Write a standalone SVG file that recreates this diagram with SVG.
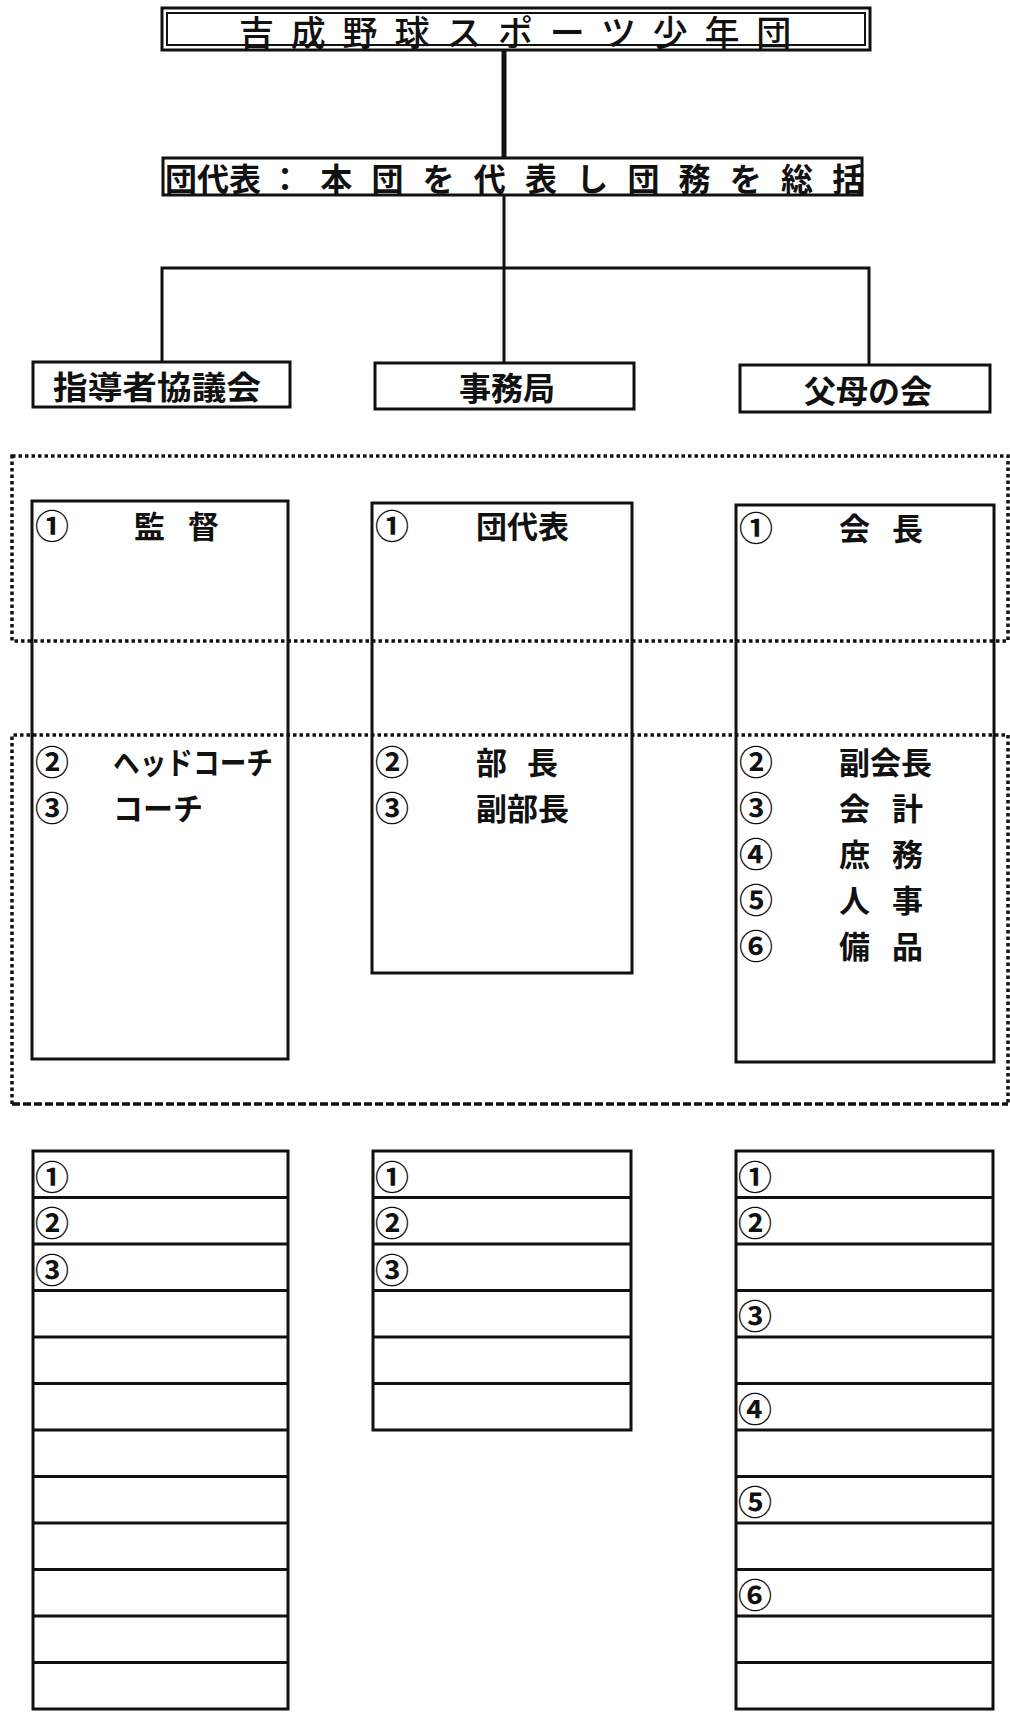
<svg xmlns="http://www.w3.org/2000/svg" width="1010" height="1722" viewBox="0 0 1010 1722">
<style>
.bx{fill:none;stroke:#111;stroke-width:3}
.ln{stroke:#111;stroke-width:3;fill:none}
.dot{fill:none;stroke:#111;stroke-width:3.5;stroke-dasharray:3.5 3}
.dash{fill:none;stroke:#111;stroke-width:3.5;stroke-dasharray:8 3}
.t{font-family:"Noto Sans CJK JP","Noto Sans CJK SC",sans-serif;fill:#111;dominant-baseline:central}
.b{font-weight:bold}
.m{font-size:31px}
.c{font-family:"Noto Sans CJK JP","Noto Sans CJK SC",sans-serif;font-size:34px;font-weight:bold;fill:#111;dominant-baseline:central}
</style>
<rect width="1010" height="1722" fill="#fff"/>
<g id="connectors">
<line class="ln" x1="504" y1="50" x2="504" y2="158" style="stroke-width:5"/>
<line class="ln" x1="504" y1="195" x2="504" y2="363"/>
<polyline class="ln" points="162,362 162,268 869,268 869,365"/>
</g>
<g id="title">
<rect class="bx" x="162" y="8" width="708" height="42"/>
<rect class="bx" x="167" y="13" width="698" height="32" style="stroke-width:2"/>
<text class="t" x="239" y="30" font-size="35" font-weight="500" letter-spacing="16.8">吉成野球スポーツ少年団</text>
</g>
<g id="representative">
<rect class="bx" x="163" y="158" width="699" height="37"/>
<text class="t b" x="165" y="177" font-size="32">団代表</text>
<text class="t b" x="269" y="177" font-size="32" letter-spacing="19.2">：本団を代表し団務を総括</text>
</g>
<g id="node-shidousha">
<rect class="bx" x="33" y="362" width="257" height="45"/>
<text class="t b" x="53" y="385" font-size="32" textLength="208" lengthAdjust="spacingAndGlyphs">指導者協議会</text>
</g>
<g id="node-jimukyoku">
<rect class="bx" x="375" y="363" width="259" height="46"/>
<text class="t b" x="507" y="386" font-size="32" text-anchor="middle">事務局</text>
</g>
<g id="node-fubo">
<rect class="bx" x="740" y="365" width="250" height="47"/>
<text class="t b" x="868" y="389" font-size="32" text-anchor="middle">父母の会</text>
</g>
<g id="dotted-frames">
<rect class="dot" x="12" y="456" width="996" height="185"/>
<polyline class="dot" points="12,1104 12,735 1008,735 1008,1104"/>
<line class="dash" x1="12" y1="1104" x2="1008" y2="1104"/>
</g>
<g id="roles-shidousha">
<rect class="bx" x="32" y="501" width="256" height="558"/>
<text class="c" x="35" y="524">①</text>
<text class="t m b" x="134 188" y="524">監督</text>
<text class="c" x="35" y="760">②</text>
<text class="t m b" x="113" y="760" textLength="160" lengthAdjust="spacingAndGlyphs">ヘッドコーチ</text>
<text class="c" x="35" y="806">③</text>
<text class="t m b" x="113" y="806" textLength="90" lengthAdjust="spacingAndGlyphs">コーチ</text>
</g>
<g id="roles-jimukyoku">
<rect class="bx" x="372" y="503" width="260" height="470"/>
<text class="c" x="375" y="524">①</text>
<text class="t m b" x="476" y="524">団代表</text>
<text class="c" x="375" y="760">②</text>
<text class="t m b" x="476 527" y="760">部長</text>
<text class="c" x="375" y="806">③</text>
<text class="t m b" x="476" y="806">副部長</text>
</g>
<g id="roles-fubo">
<rect class="bx" x="736" y="505" width="258" height="557"/>
<text class="c" x="739" y="526">①</text>
<text class="t m b" x="839 892" y="526">会長</text>
<text class="c" x="739" y="760">②</text>
<text class="t m b" x="839" y="760">副会長</text>
<text class="c" x="739" y="806">③</text>
<text class="t m b" x="839 892" y="806">会計</text>
<text class="c" x="739" y="852">④</text>
<text class="t m b" x="839 892" y="852">庶務</text>
<text class="c" x="739" y="898">⑤</text>
<text class="t m b" x="839 892" y="898">人事</text>
<text class="c" x="739" y="944">⑥</text>
<text class="t m b" x="839 892" y="944">備品</text>
</g>
<g id="list-shidousha">
<rect class="bx" x="33" y="1151" width="255" height="558"/>
<path class="ln" d="M33 1197.5H288M33 1244H288M33 1290.5H288M33 1337H288M33 1383.5H288M33 1430H288M33 1476.5H288M33 1523H288M33 1569.5H288M33 1616H288M33 1662.5H288"/>
<text class="c" x="35" y="1175">①</text>
<text class="c" x="35" y="1221">②</text>
<text class="c" x="35" y="1268">③</text>
</g>
<g id="list-jimukyoku">
<rect class="bx" x="373" y="1151" width="258" height="279"/>
<path class="ln" d="M373 1197.5H631M373 1244H631M373 1290.5H631M373 1337H631M373 1383.5H631"/>
<text class="c" x="375" y="1175">①</text>
<text class="c" x="375" y="1221">②</text>
<text class="c" x="375" y="1268">③</text>
</g>
<g id="list-fubo">
<rect class="bx" x="736" y="1151" width="257" height="558"/>
<path class="ln" d="M736 1197.5H993M736 1244H993M736 1290.5H993M736 1337H993M736 1383.5H993M736 1430H993M736 1476.5H993M736 1523H993M736 1569.5H993M736 1616H993M736 1662.5H993"/>
<text class="c" x="738" y="1175">①</text>
<text class="c" x="738" y="1221">②</text>
<text class="c" x="738" y="1314">③</text>
<text class="c" x="738" y="1407">④</text>
<text class="c" x="738" y="1500">⑤</text>
<text class="c" x="738" y="1593">⑥</text>
</g>
</svg>
